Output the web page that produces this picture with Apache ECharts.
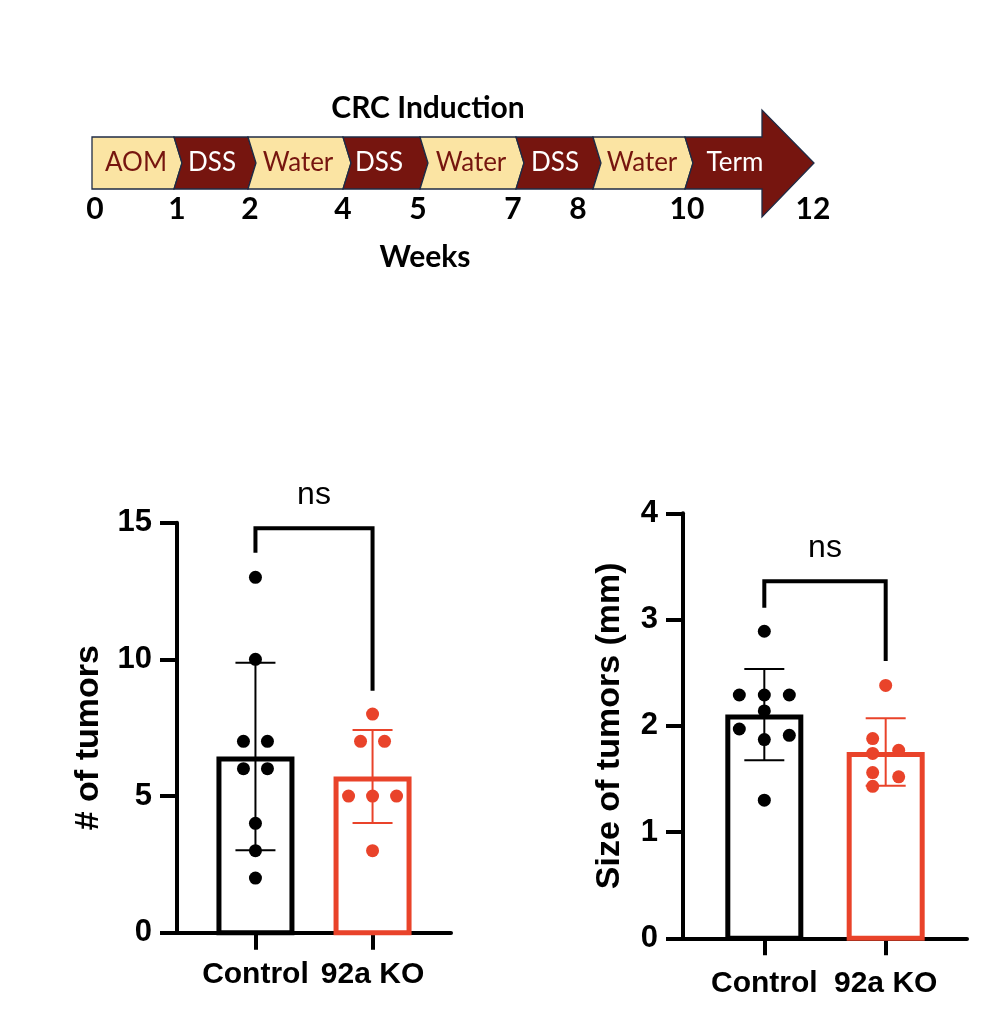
<!DOCTYPE html>
<html>
<head>
<meta charset="utf-8">
<title>CRC induction - tumors</title>
<script src="https://cdn.jsdelivr.net/npm/echarts@6/dist/echarts.min.js"></script>
<style>
html, body { margin: 0; padding: 0; background: #fff; }
#chart { width: 1006px; height: 1012px; }
</style>
</head>
<body>
<div id="chart"></div>
<script>
// timeline
let stageNames = ['AOM', 'DSS', 'Water', 'DSS', 'Water', 'DSS', 'Water', 'Term']
let stageIsDSS = [false, true, false, true, false, true, false, true]
let weekLabels = ['0', '1', '2', '4', '5', '7', '8', '10', '12']

// groups
let groups = ['Control', '92a KO']

// # of tumors, per mouse
let tumorsControl = [13, 10, 7, 7, 6, 6, 4, 3, 2]
let tumorsKO = [8, 7, 7, 5, 5, 5, 3]

// size of tumors (mm), per mouse
let sizeControl = [2.89, 2.29, 2.29, 2.29, 2.14, 1.97, 1.91, 1.87, 1.30]
let sizeKO = [2.38, 1.88, 1.74, 1.77, 1.56, 1.52, 1.43]

// brackets: [top, left leg end, right leg end]
let tumorsBracket = [14.8, 13.9, 8.85]
let sizeBracket = [3.36, 3.11, 2.61]
let sigLabel = 'ns'

// layout (px), not data
let tl = {
  bounds: [92, 174, 248, 343, 420, 516, 593, 685, 762],
  top: 137, bottom: 189, notch: 8,
  headTop: 110, headBottom: 217, tip: 814,
  stageX: [136, 212, 298, 379, 471, 555, 642, 735],
  weekX: [95, 177, 250, 343, 418, 513, 578, 687, 813],
  weekY: 209
}
let jitterTumorsCtrl = [0, 0, -12, 12, -12, 12, 0, 0, 0]
let jitterTumorsKO = [0, -12, 12, -24, 0, 24, 0]
let jitterSizeCtrl = [0, -25, 0, 25, 0, -25, 25, 0, 0]
let jitterSizeKO = [0, -13, -13, 13, -13, 13, -13]

let BLACK = '#000000'
let RED = '#E9432A'
let CREAM = '#FBE4A3'
let MAROON = '#76150F'
let NAVY = '#1F2B45'
let FONT = '"Liberation Sans", Arial, Helvetica, sans-serif'
let TLFONT = 'Lato, "Open Sans", sans-serif'

function mean (arr) {
  return arr.reduce((a, b) => a + b, 0) / arr.length
}
function sd (arr) {
  let m = mean(arr)
  return Math.sqrt(arr.reduce((a, b) => a + (b - m) * (b - m), 0) / (arr.length - 1))
}

function timelineGraphics () {
  let els = []
  let b = tl.bounds
  let mid = (tl.top + tl.bottom) / 2
  let n = tl.notch
  for (let i = 0; i < stageNames.length; i++) {
    let x0 = b[i]
    let x1 = b[i + 1]
    let pts = [[x0, tl.top], [x1, tl.top]]
    if (i === stageNames.length - 1) {
      pts.push([x1, tl.headTop], [tl.tip, mid], [x1, tl.headBottom])
    } else {
      pts.push([x1 + n, mid])
    }
    pts.push([x1, tl.bottom], [x0, tl.bottom])
    if (i > 0) pts.push([x0 + n, mid])
    els.push({
      type: 'polygon',
      shape: { points: pts },
      style: { fill: stageIsDSS[i] ? MAROON : CREAM, stroke: NAVY, lineWidth: 1.3 }
    })
    els.push({
      type: 'text',
      x: tl.stageX[i],
      y: mid,
      style: {
        text: stageNames[i],
        font: '26px ' + TLFONT,
        fill: stageIsDSS[i] ? '#ffffff' : MAROON,
        align: 'center',
        verticalAlign: 'middle'
      }
    })
  }
  weekLabels.forEach((w, i) => {
    els.push({
      type: 'text',
      x: tl.weekX[i],
      y: tl.weekY,
      style: { text: w, font: 'bold 30px ' + TLFONT, fill: '#000', align: 'center', verticalAlign: 'middle' }
    })
  })
  els.push({
    type: 'text', x: 428, y: 108,
    style: { text: 'CRC Induction', font: 'bold 30px ' + TLFONT, fill: '#000', align: 'center', verticalAlign: 'middle' }
  })
  els.push({
    type: 'text', x: 425, y: 257,
    style: { text: 'Weeks', font: 'bold 30px ' + TLFONT, fill: '#000', align: 'center', verticalAlign: 'middle' }
  })
  return els
}

function renderBar (params, api) {
  let top = api.coord([api.value(0), api.value(1)])
  let base = api.coord([api.value(0), 0])
  return {
    type: 'rect',
    shape: { x: top[0] - 36.5, y: top[1] + 2.5, width: 73, height: base[1] - top[1] - 2.5 },
    style: { fill: '#fff', stroke: api.visual('color'), lineWidth: 5 }
  }
}

function renderError (params, api) {
  let x = api.value(0)
  let m = api.value(1)
  let s = api.value(2)
  let hi = api.coord([x, m + s])
  let lo = api.coord([x, m - s])
  let color = api.visual('color')
  let st = { stroke: color, lineWidth: 2 }
  return {
    type: 'group',
    children: [
      { type: 'line', shape: { x1: hi[0], y1: hi[1], x2: lo[0], y2: lo[1] }, style: st },
      { type: 'line', shape: { x1: hi[0] - 20, y1: hi[1], x2: hi[0] + 20, y2: hi[1] }, style: st },
      { type: 'line', shape: { x1: lo[0] - 20, y1: lo[1], x2: lo[0] + 20, y2: lo[1] }, style: st }
    ]
  }
}

function renderBracket (params, api) {
  let top = api.value(2)
  let a = api.coord([api.value(0), api.value(3)])
  let b = api.coord([api.value(0), top])
  let c = api.coord([api.value(1), top])
  let d = api.coord([api.value(1), api.value(4)])
  return {
    type: 'group',
    children: [
      {
        type: 'polyline',
        shape: { points: [a, b, c, d] },
        style: { stroke: '#000', lineWidth: 4, fill: null }
      },
      {
        type: 'text',
        x: (b[0] + c[0]) / 2,
        y: b[1] - 17,
        style: { text: sigLabel, font: '32px ' + FONT, fill: '#000', align: 'center', verticalAlign: 'bottom' }
      }
    ]
  }
}

function barData (ctrl, ko) {
  return [
    { value: [0, mean(ctrl)], itemStyle: { color: BLACK } },
    { value: [1, mean(ko)], itemStyle: { color: RED } }
  ]
}
function errData (ctrl, ko) {
  return [
    { value: [0, mean(ctrl), sd(ctrl)], itemStyle: { color: BLACK } },
    { value: [1, mean(ko), sd(ko)], itemStyle: { color: RED } }
  ]
}
function dots (vals, idx, jitter) {
  return vals.map((v, i) => ({ value: [idx, v], symbolOffset: [jitter[i], 0] }))
}

function xAxisFor (gi, margin) {
  return {
    type: 'value',
    gridIndex: gi,
    min: -0.67,
    max: 1.67,
    splitLine: { show: false },
    axisLine: { show: true, onZero: false, lineStyle: { color: '#000', width: 4 } },
    axisTick: { show: true, customValues: [0, 1], length: 17, lineStyle: { color: '#000', width: 4 } },
    axisLabel: {
      show: true,
      customValues: [0, 1],
      margin: margin,
      formatter: (v) => groups[Math.round(v)],
      color: '#000',
      fontFamily: FONT,
      fontWeight: 'bold',
      fontSize: 30
    }
  }
}
function yAxisFor (gi, max, interval, name, gap, pad) {
  return {
    type: 'value',
    gridIndex: gi,
    min: 0,
    max: max,
    interval: interval,
    name: name,
    nameLocation: 'middle',
    nameGap: gap,
    nameTextStyle: { color: '#000', fontFamily: FONT, fontWeight: 'bold', fontSize: 34, padding: pad },
    splitLine: { show: false },
    axisLine: { show: true, onZero: false, lineStyle: { color: '#000', width: 4 } },
    axisTick: { show: true, length: 17, lineStyle: { color: '#000', width: 4 } },
    axisLabel: { color: '#000', fontFamily: FONT, fontWeight: 'bold', fontSize: 31, margin: 25 }
  }
}

let chart = echarts.init(document.getElementById('chart'), null, { renderer: 'canvas' })
let option = {
  backgroundColor: '#ffffff',
  animation: false,
  graphic: timelineGraphics(),
  grid: [
    { left: 177, top: 522.7, width: 274, height: 410 },
    { left: 683, top: 513.3, width: 284, height: 425 }
  ],
  xAxis: [xAxisFor(0, 27), xAxisFor(1, 30)],
  yAxis: [
    yAxisFor(0, 15, 5, '# of tumors', 71, [0, 20, 0, 0]),
    yAxisFor(1, 4, 1, 'Size of tumors (mm)', 56, [0, 0, 0, 0])
  ],
  series: [
    { type: 'custom', xAxisIndex: 0, yAxisIndex: 0, renderItem: renderBar, data: barData(tumorsControl, tumorsKO) },
    { type: 'custom', xAxisIndex: 0, yAxisIndex: 0, renderItem: renderError, data: errData(tumorsControl, tumorsKO) },
    { type: 'scatter', xAxisIndex: 0, yAxisIndex: 0, symbolSize: 13, itemStyle: { color: BLACK, opacity: 1 }, data: dots(tumorsControl, 0, jitterTumorsCtrl) },
    { type: 'scatter', xAxisIndex: 0, yAxisIndex: 0, symbolSize: 13, itemStyle: { color: RED, opacity: 1 }, data: dots(tumorsKO, 1, jitterTumorsKO) },
    { type: 'custom', xAxisIndex: 0, yAxisIndex: 0, renderItem: renderBracket, data: [[0, 1].concat(tumorsBracket)] },

    { type: 'custom', xAxisIndex: 1, yAxisIndex: 1, renderItem: renderBar, data: barData(sizeControl, sizeKO) },
    { type: 'custom', xAxisIndex: 1, yAxisIndex: 1, renderItem: renderError, data: errData(sizeControl, sizeKO) },
    { type: 'scatter', xAxisIndex: 1, yAxisIndex: 1, symbolSize: 13, itemStyle: { color: BLACK, opacity: 1 }, data: dots(sizeControl, 0, jitterSizeCtrl) },
    { type: 'scatter', xAxisIndex: 1, yAxisIndex: 1, symbolSize: 13, itemStyle: { color: RED, opacity: 1 }, data: dots(sizeKO, 1, jitterSizeKO) },
    { type: 'custom', xAxisIndex: 1, yAxisIndex: 1, renderItem: renderBracket, data: [[0, 1].concat(sizeBracket)] }
  ]
}
chart.setOption(option)
</script>
</body>
</html>
